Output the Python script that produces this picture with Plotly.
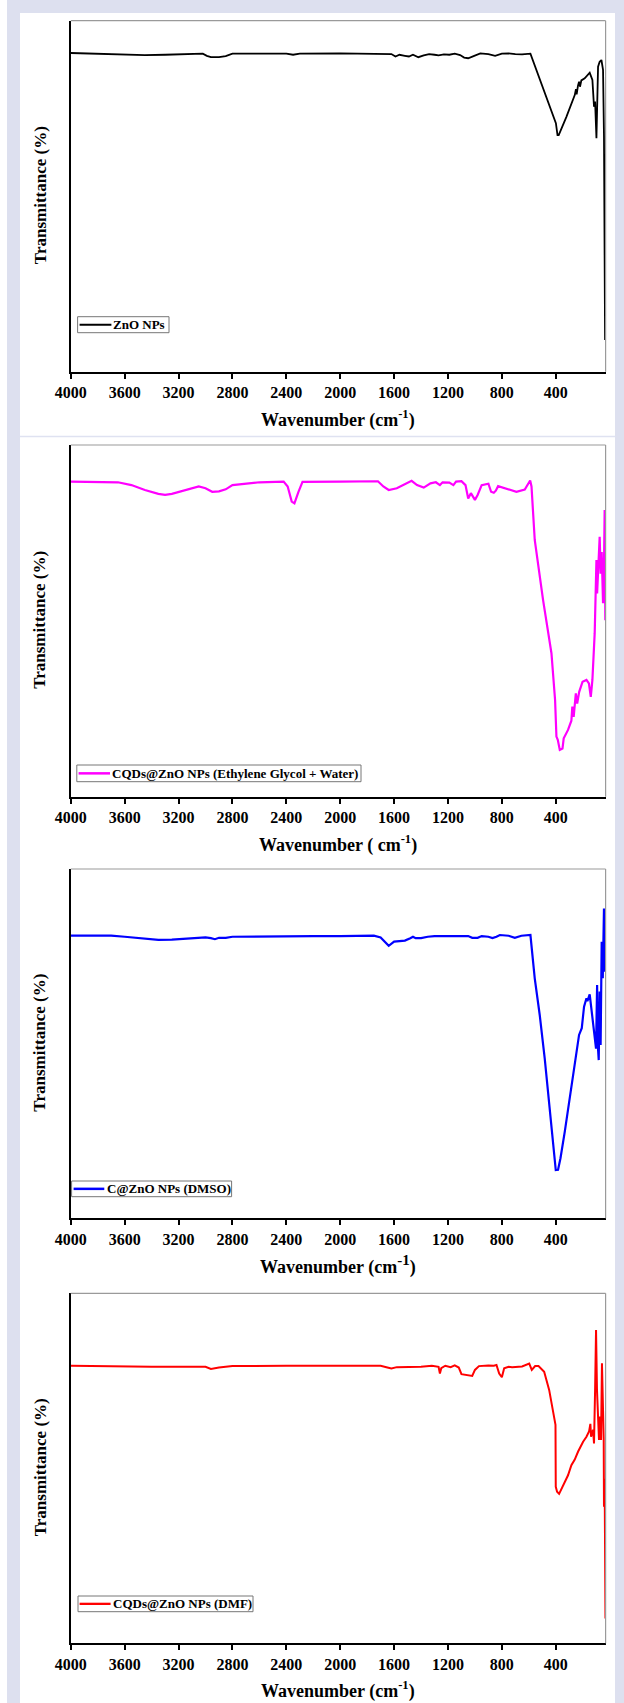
import plotly.graph_objects as go

# ---------------- DATA ----------------
wn_zno = [4000, 3900, 3750, 3600, 3450, 3300, 3150, 3020, 2990, 2960, 2900, 2850, 2800, 2600, 2400,
          2350, 2300, 2000, 1700, 1620, 1590, 1560, 1520, 1490, 1460, 1420, 1380, 1340, 1300, 1270,
          1230, 1190, 1150, 1110, 1080, 1050, 1010, 960, 900, 850, 800, 750, 700, 650, 588, 407,
          399, 387, 378, 321, 259, 250, 245, 235, 227, 220, 210, 185, 148, 128, 116, 108, 98, 86,
          74, 61, 49, 42, 34]
t_zno = [90.8, 90.7, 90.4, 90.3, 90.2, 90.3, 90.5, 90.6, 90.0, 89.6, 89.6, 89.9, 90.6, 90.7, 90.6,
         90.3, 90.6, 90.7, 90.6, 90.5, 89.8, 90.3, 90.0, 89.8, 90.3, 89.6, 90.1, 90.5, 90.3, 90.1,
         90.4, 90.3, 90.6, 90.2, 89.5, 89.3, 89.9, 90.7, 90.5, 90.0, 90.6, 90.7, 90.5, 90.4, 90.6, 71.2,
         70.8, 67.4, 67.4, 72.6, 78.8, 80.5, 79.0, 81.5, 82.6, 81.2, 83.0, 83.6, 85.2, 83.1, 75.5, 77.0, 66.5, 86.9,
         88.3, 88.8, 86.0, 67.0, 9.0]

wn_eg = [4000, 3850, 3780, 3760, 3650, 3550, 3450, 3350, 3300, 3250, 3150, 3050, 3000, 2950, 2900,
         2850, 2800, 2700, 2600, 2420, 2390, 2360, 2340, 2310, 2280, 2000, 1720, 1680, 1640, 1580,
         1500, 1470, 1430, 1380, 1330, 1290, 1260, 1240, 1190, 1160, 1140, 1100, 1070, 1050, 1030,
         1000, 980, 950, 900, 880, 860, 845, 828, 766, 692, 630, 600, 590, 580, 556, 494, 432, 405,
         395, 385, 370, 350, 341, 309, 284, 277, 267, 251, 241, 226, 201, 172, 154, 140, 128, 111,
         98, 93, 83, 74, 67, 59, 49, 42, 37, 32]
t_eg = [89.6, 89.6, 89.4, 89.6, 89.4, 88.6, 87.2, 86.1, 85.8, 86.1, 87.2, 88.2, 87.7, 86.7, 86.8,
        87.4, 88.6, 89.1, 89.4, 89.6, 88.2, 83.9, 83.4, 86.7, 89.5, 89.6, 89.7, 88.2, 87.2, 87.7,
        89.1, 89.8, 88.6, 87.9, 89.1, 89.4, 88.6, 89.4, 89.3, 88.6, 89.6, 89.7, 88.6, 84.8, 86.3,
        84.4, 85.8, 88.6, 89.0, 86.7, 86.4, 87.0, 88.3, 87.6, 86.7, 87.3, 89.0, 89.9, 88.2, 73.0, 55.9, 40.8, 27.5,
        17.1, 16.2, 13.3, 13.7, 16.6, 19.0, 21.6, 25.6, 22.7, 29.4, 26.5, 29.8, 32.7, 33.2, 32.2, 28.4, 33.2, 46.5,
        67.3, 57.8, 66.4, 73.9, 63.4, 69.6, 55.0, 65.4, 81.5, 50.2]

wn_dmso = [4000, 3700, 3600, 3500, 3350, 3250, 3200, 3000, 2960, 2930, 2900, 2850, 2800, 2600, 2400,
           2350, 2200, 2000, 1750, 1700, 1660, 1640, 1600, 1550, 1520, 1480, 1460, 1440, 1400, 1350,
           1300, 1050, 1020, 980, 950, 900, 870, 840, 815, 750, 704, 655, 588, 556, 519, 482, 444,
           415, 400, 383, 365, 333, 296, 259, 227, 207, 190, 172, 165, 148, 128, 108, 101, 93, 88,
           81, 74, 67, 59, 51, 46, 42, 40, 38, 36, 34, 31]
t_dmso = [80.9, 80.9, 80.6, 80.2, 79.7, 79.8, 79.9, 80.4, 80.2, 79.9, 80.3, 80.3, 80.6, 80.7, 80.8,
          80.9, 80.8, 80.8, 80.9, 80.4, 78.7, 78.0, 79.2, 79.5, 79.5, 80.2, 80.6, 80.2, 80.2, 80.6,
          80.8, 80.8, 80.3, 80.3, 80.8, 80.6, 80.2, 80.6, 81.1, 80.9, 80.3, 80.9, 81.1, 68.7, 58.2, 45.8, 31.5,
          20.0, 13.8, 13.9, 17.2, 24.8, 34.4, 43.9, 52.5, 54.4, 60.6, 63.0, 62.2, 64.1, 58.2, 51.5, 48.6, 66.8, 49.6,
          45.3, 64.9, 49.6, 79.2, 68.7, 79.2, 88.7, 75.0, 86.0, 70.6, 84.0, 77.3]

wn_dmf = [4000, 3800, 3750, 3400, 3000, 2960, 2900, 2800, 2400, 1700, 1650, 1620, 1580, 1400, 1320,
          1280, 1270, 1260, 1250, 1220, 1180, 1150, 1120, 1100, 1050, 1020, 1000, 970, 900, 860,
          840, 820, 800, 783, 750, 724, 650, 605, 597, 578, 553, 528, 486, 449, 420, 402, 400, 390,
          375, 346, 309, 284, 259, 234, 197, 172, 153, 143, 138, 123, 116, 108, 101, 94, 86, 79,
          71, 64, 57, 49, 44, 42, 39, 36, 31]
t_dmf = [79.3, 79.2, 79.0, 79.0, 79.0, 78.4, 78.8, 79.2, 79.3, 79.3, 78.8, 78.5, 78.9, 79.0, 79.3,
         79.2, 79.0, 77.1, 78.6, 79.3, 78.9, 79.4, 78.8, 76.9, 76.6, 76.4, 78.1, 79.2, 79.4, 79.3,
         79.5, 77.1, 76.0, 78.6, 79.0, 78.9, 79.1, 79.6, 79.9, 78.1, 79.2, 79.2, 77.6, 72.4, 66.7, 62.4, 44.7, 43.3,
         42.7, 45.2, 48.0, 50.9, 52.5, 54.8, 57.6, 59.0, 60.5, 62.7, 59.0, 61.0, 57.1, 72.4, 89.5, 72.4, 66.7, 58.1,
         64.8, 58.1, 80.0, 61.0, 58.1, 39.0, 47.0, 40.0, 7.1]

series_names = ["ZnO NPs", "CQDs@ZnO NPs (Ethylene Glycol + Water)", "C@ZnO NPs (DMSO)", "CQDs@ZnO NPs (DMF)"]
series_colors = ["#000000", "#ff00ff", "#0000ff", "#ff0000"]
tick_vals = [4000, 3600, 3200, 2800, 2400, 2000, 1600, 1200, 800, 400]
tick_text = ["4000", "3600", "3200", "2800", "2400", "2000", "1600", "1200", "800", "400"]
x_titles = ["Wavenumber (cm<sup>-1</sup>)", "Wavenumber ( cm<sup>-1</sup>)",
            "Wavenumber (cm<sup><span style='font-size:15px'>-1</span></sup>)", "Wavenumber (cm<sup>-1</sup>)"]
y_title = "Transmittance (%)"

# ---------------- LAYOUT (pixels) ----------------
W, H = 624, 1703
FONT = "Liberation Serif"
x_left, x_right = 70.8, 605.6
panels = [(20.7, 371.7), (445.0, 796.7), (869.0, 1218.3), (1293.3, 1643.3)]
# legend geometry: box x0, x1, y0, y1, sample line x0, x1, text x
legend_geom = [(77.6, 169.0, 316.7, 332.7, 79.6, 111.4, 112.0),
               (76.8, 361.0, 765.0, 781.7, 78.6, 110.0, 110.8),
               (71.6, 231.6, 1181.0, 1196.7, 73.6, 104.3, 105.6),
               (78.0, 253.0, 1596.0, 1611.7, 79.6, 110.6, 111.6)]
line_widths = [1.8, 2.2, 2.2, 2.0]

def px(x):
    return x / W

def py(y):
    return 1 - y / H

data_sets = [(wn_zno, t_zno), (wn_eg, t_eg), (wn_dmso, t_dmso), (wn_dmf, t_dmf)]

fig = go.Figure()
layout = dict(width=W, height=H, margin=dict(l=0, r=0, t=0, b=0, autoexpand=False),
              paper_bgcolor="white", plot_bgcolor="white", showlegend=False)
shapes = []
annotations = []

# background frame
shapes.append(dict(type="rect", xref="paper", yref="paper", x0=px(7), x1=1, y0=0, y1=1,
                   fillcolor="#dde0ef", line=dict(width=0), layer="below"))
shapes.append(dict(type="rect", xref="paper", yref="paper", x0=px(20), x1=px(615), y0=0, y1=py(13),
                   fillcolor="white", line=dict(width=0), layer="below"))
shapes.append(dict(type="line", xref="paper", yref="paper", x0=px(20), x1=px(615), y0=py(436.5), y1=py(436.5),
                   line=dict(color="#dfe2f1", width=1.5), layer="below"))

for i, ((wn, tv), name, color, (top, bot), lg, lw, xt) in enumerate(
        zip(data_sets, series_names, series_colors, panels, legend_geom, line_widths, x_titles)):
    k = "" if i == 0 else str(i + 1)
    fig.add_trace(go.Scatter(x=wn, y=tv, mode="lines", name=name,
                             line=dict(color=color, width=lw),
                             xaxis="x" + k, yaxis="y" + k))
    layout["xaxis" + k] = dict(domain=[px(x_left), px(x_right)], anchor="y" + k,
                               range=[4000, 30], tickmode="array", tickvals=tick_vals, ticktext=tick_text,
                               ticks="outside", ticklen=5, tickwidth=1.5, tickcolor="black",
                               showline=True, linecolor="black", linewidth=2, showgrid=False, zeroline=False,
                               tickfont=dict(family=FONT, size=16, color="black", weight="bold"))
    layout["yaxis" + k] = dict(domain=[py(bot), py(top)], anchor="x" + k, range=[0, 100],
                               showticklabels=False, ticks="", showgrid=False, zeroline=False,
                               showline=True, linecolor="black", linewidth=2)
    # top and right frame (thin grey)
    shapes.append(dict(type="line", xref="x" + k + " domain", yref="y" + k + " domain",
                       x0=0, x1=1, y0=1, y1=1, line=dict(color="#9a9a9a", width=1.2)))
    shapes.append(dict(type="line", xref="x" + k + " domain", yref="y" + k + " domain",
                       x0=1, x1=1, y0=0, y1=1, line=dict(color="#9a9a9a", width=1.2)))
    # legend box
    bx0, bx1, by0, by1, lx0, lx1, tx = lg
    cy = (by0 + by1) / 2
    shapes.append(dict(type="rect", xref="paper", yref="paper", x0=px(bx0), x1=px(bx1), y0=py(by1), y1=py(by0),
                       fillcolor="white", line=dict(color="#777777", width=1)))
    shapes.append(dict(type="line", xref="paper", yref="paper", x0=px(lx0), x1=px(lx1), y0=py(cy), y1=py(cy),
                       line=dict(color=color, width=lw + 0.3)))
    annotations.append(dict(text=name, xref="paper", yref="paper", x=px(tx), y=py(cy), showarrow=False,
                            xanchor="left", yanchor="middle", borderpad=0,
                            font=dict(family=FONT, size=13, color="black", weight="bold")))
    annotations.append(dict(text=y_title, xref="paper", yref="paper", x=px(40), y=py((top + bot) / 2 - 1),
                            textangle=-90, showarrow=False, xanchor="center", yanchor="middle",
                            font=dict(family=FONT, size=17, color="black", weight="bold")))
    annotations.append(dict(text=xt, xref="paper", yref="paper", x=px((x_left + x_right) / 2),
                            y=py(bot + 47), showarrow=False, xanchor="center", yanchor="middle",
                            font=dict(family=FONT, size=18, color="black", weight="bold")))

layout["shapes"] = shapes
layout["annotations"] = annotations
fig.update_layout(**layout)
fig.write_html("out.html", config={"displayModeBar": False},
               post_script="document.body.style.margin='0px';document.body.style.overflow='hidden';")
